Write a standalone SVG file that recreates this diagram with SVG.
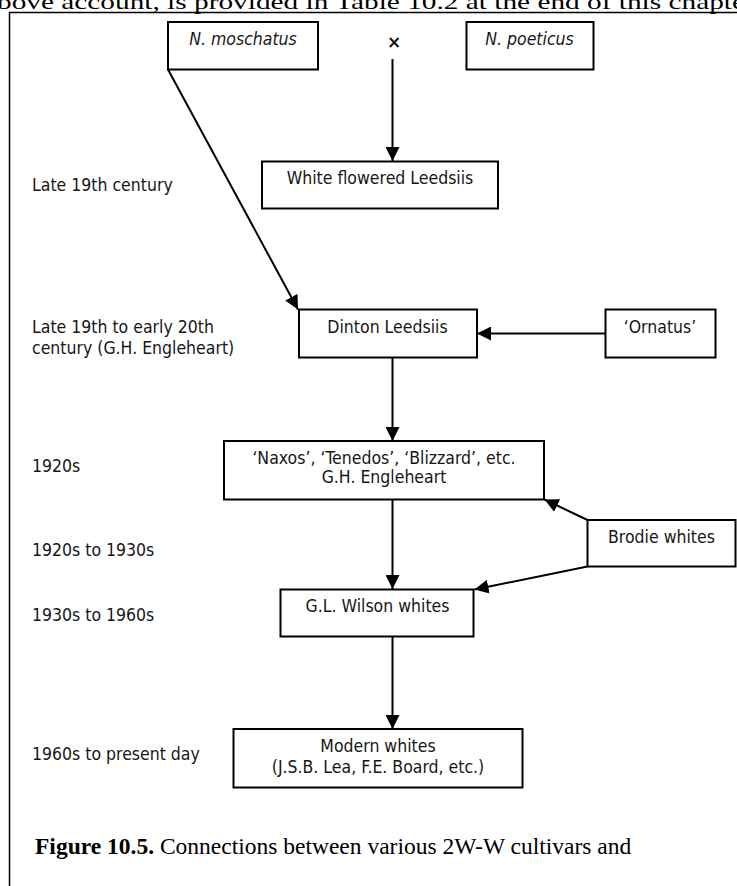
<svg xmlns="http://www.w3.org/2000/svg" width="737" height="886" viewBox="0 0 737 886">
  <style>
    .box { fill: #ffffff; stroke: #000000; stroke-width: 2; }
    .lbl { font-family: "DejaVu Sans Condensed", "DejaVu Sans", sans-serif; font-stretch: condensed; font-size: 17.5px; fill: #161616; }
    .mid { text-anchor: middle; }
    .it { font-style: italic; }
    .edge { stroke: #000000; stroke-width: 2; fill: none; marker-end: url(#arrow); }
    .frame { stroke: #000000; stroke-width: 1.5; fill: none; }
    .serif { font-family: "Liberation Serif", "Times New Roman", serif; font-size: 22px; fill: #000000; }
    .caption { font-family: "Liberation Serif", "Times New Roman", serif; font-size: 23.5px; fill: #000000; }
  </style>
  <defs>
    <marker id="arrow" markerUnits="userSpaceOnUse" markerWidth="14" markerHeight="14" refX="14" refY="7" orient="auto" viewBox="0 0 14 14">
      <path d="M0,0 L14,7 L0,14 z" fill="#000000"/>
    </marker>
  </defs>

  <rect width="737" height="886" fill="#ffffff"/>

  <!-- running text of the page above the figure -->
  <text class="serif" x="-3" y="9" textLength="748" lengthAdjust="spacingAndGlyphs">bove account, is provided in Table 10.2 at the end of this chapte</text>

  <!-- figure frame -->
  <path class="frame" d="M9.5,886 L9.5,12.5 L737,12.5"/>

  <!-- period labels -->
  <g id="periods" class="lbl">
    <text x="32" y="191">Late 19th century</text>
    <text x="32" y="333">Late 19th to early 20th</text>
    <text x="32" y="354">century (G.H. Engleheart)</text>
    <text x="32" y="472">1920s</text>
    <text x="32" y="556">1920s to 1930s</text>
    <text x="32" y="621">1930s to 1960s</text>
    <text x="32" y="760">1960s to present day</text>
  </g>

  <!-- connectors -->
  <g id="connectors">
    <line class="edge" x1="392.5" y1="59" x2="392.5" y2="161"/>
    <line class="edge" x1="168" y1="69.5" x2="298" y2="309.5"/>
    <line class="edge" x1="605.5" y1="333.5" x2="477" y2="333.5"/>
    <line class="edge" x1="392.5" y1="358" x2="392.5" y2="441"/>
    <line class="edge" x1="392.5" y1="499.5" x2="392.5" y2="589"/>
    <line class="edge" x1="587.5" y1="520" x2="544.5" y2="499.5"/>
    <line class="edge" x1="587.5" y1="566.5" x2="474.5" y2="589.5"/>
    <line class="edge" x1="392.5" y1="637" x2="392.5" y2="729"/>
  </g>

  <!-- cross symbol -->
  <g id="cross">
    <text x="394" y="47.5" class="mid" font-family="DejaVu Sans, sans-serif" font-weight="bold" font-size="17" fill="#111111">×</text>
  </g>

  <!-- nodes -->
  <g id="n-moschatus">
    <rect class="box" x="168" y="22" width="150" height="47.5"/>
    <text class="lbl mid it" x="243" y="44.5">N. moschatus</text>
  </g>
  <g id="n-poeticus">
    <rect class="box" x="466.5" y="22" width="127" height="47.5"/>
    <text class="lbl mid it" x="529.5" y="44.5">N. poeticus</text>
  </g>
  <g id="white-flowered-leedsiis">
    <rect class="box" x="262" y="161.5" width="236" height="47"/>
    <text class="lbl mid" x="380" y="183.5">White flowered Leedsiis</text>
  </g>
  <g id="dinton-leedsiis">
    <rect class="box" x="299" y="309.5" width="178" height="48"/>
    <text class="lbl mid" x="387.5" y="332.5">Dinton Leedsiis</text>
  </g>
  <g id="ornatus">
    <rect class="box" x="605.5" y="309.5" width="110" height="48"/>
    <text class="lbl mid" x="660" y="332.5">‘Ornatus’</text>
  </g>
  <g id="naxos-group">
    <rect class="box" x="224" y="441" width="320" height="58.5"/>
    <text class="lbl mid" x="384" y="463.5">‘Naxos’, ‘Tenedos’, ‘Blizzard’, etc.</text>
    <text class="lbl mid" x="384" y="483">G.H. Engleheart</text>
  </g>
  <g id="brodie-whites">
    <rect class="box" x="587.5" y="520" width="148" height="46.5"/>
    <text class="lbl mid" x="661.5" y="543">Brodie whites</text>
  </g>
  <g id="wilson-whites">
    <rect class="box" x="280.5" y="589.5" width="193" height="47"/>
    <text class="lbl mid" x="377.5" y="612">G.L. Wilson whites</text>
  </g>
  <g id="modern-whites">
    <rect class="box" x="233.5" y="729" width="289" height="58.5"/>
    <text class="lbl mid" x="378" y="752">Modern whites</text>
    <text class="lbl mid" x="378" y="773">(J.S.B. Lea, F.E. Board, etc.)</text>
  </g>

  <!-- caption -->
  <text class="caption" x="35" y="853.5"><tspan font-weight="bold">Figure 10.5.</tspan> Connections between various 2W-W cultivars and</text>
</svg>
